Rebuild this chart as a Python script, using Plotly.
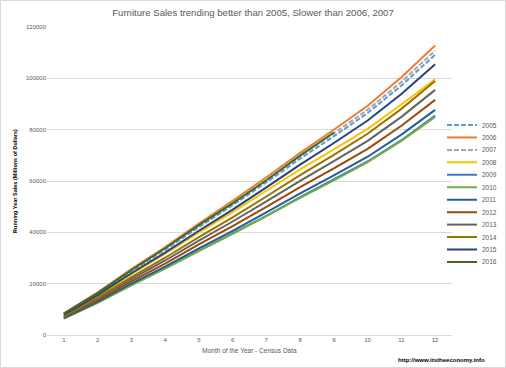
import plotly.graph_objects as go

months = [1, 2, 3, 4, 5, 6, 7, 8, 9, 10, 11, 12]
years = ["2005", "2006", "2007", "2008", "2009", "2010", "2011", "2012", "2013", "2014", "2015", "2016"]

s2005 = [8190, 16050, 24900, 33200, 42040, 50560, 59510, 68690, 77420, 86490, 97190, 109200]
s2006 = [8460, 16580, 25720, 34290, 43430, 52230, 61480, 70950, 79980, 89340, 100390, 112800]
s2007 = [8310, 16290, 25260, 33680, 42660, 51300, 60390, 69690, 78560, 87750, 98610, 110800]
s2008 = [7850, 15350, 23750, 31650, 39950, 47900, 56200, 64500, 72300, 80300, 89800, 99600]
s2009 = [6600, 12900, 19700, 26100, 32900, 39500, 46400, 53700, 60500, 67600, 75900, 85500]
s2010 = [6380, 12500, 19380, 25840, 32730, 39360, 46330, 53470, 60270, 67320, 75650, 85000]
s2011 = [6580, 12890, 20000, 26660, 33760, 40610, 47800, 55160, 62180, 69460, 78050, 87700]
s2012 = [6870, 13470, 20880, 27850, 35270, 42410, 49920, 57620, 64940, 72550, 81520, 91600]
s2013 = [7160, 14040, 21770, 29030, 36770, 44220, 52050, 60070, 67710, 75640, 85000, 95500]
s2014 = [7430, 14550, 22570, 30100, 38120, 45840, 53960, 62270, 70190, 78410, 88110, 99000]
s2015 = [7910, 15510, 24050, 32070, 40620, 48850, 57500, 66360, 74800, 83560, 93900, 105500]
s2016 = [8350, 16300, 25300, 33800, 42800, 51300, 60300, 69900, 78900]

series = [s2005, s2006, s2007, s2008, s2009, s2010, s2011, s2012, s2013, s2014, s2015, s2016]
colors = ["#5B9BD5", "#ED7D31", "#A5A5A5", "#FFC000", "#4472C4", "#70AD47",
          "#255E91", "#9E480E", "#636363", "#997300", "#264478", "#43682B"]
dashes = ["5px,2px", "solid", "5px,2px", "solid", "solid", "solid",
          "solid", "solid", "solid", "solid", "solid", "solid"]

W, H = 506, 368
L, R, T, B = 47, 54, 27, 33
plot_w = W - L - R
plot_h = H - T - B

fig = go.Figure()
layout_legends = {}
for i, (name, vals) in enumerate(zip(years, series)):
    lname = "legend" if i == 0 else f"legend{i+1}"
    fig.add_trace(go.Scatter(
        x=months[:len(vals)], y=vals, name=name, mode="lines",
        line=dict(color=colors[i], width=2, dash=dashes[i]),
        legend=lname,
    ))
    ypix = 125 + i * 12.45
    layout_legends[lname] = dict(
        x=(442 - L) / plot_w, xanchor="left",
        y=(H - B - ypix) / plot_h, yanchor="middle",
        bgcolor="rgba(0,0,0,0)", borderwidth=0,
        font=dict(family="Liberation Sans", size=6.5, color="#595959"),
        itemwidth=30,
    )

fig.update_layout(
    width=W, height=H,
    margin=dict(l=L, r=R, t=T, b=B, autoexpand=False),
    paper_bgcolor="white", plot_bgcolor="white",
    title=dict(text="Furniture Sales trending better than 2005, Slower than 2006, 2007",
               x=0.5, xanchor="center", y=1 - 13 / H, yanchor="middle",
               font=dict(family="Liberation Sans", size=9.6, color="#595959")),
    showlegend=True,
    **layout_legends,
)

fig.update_xaxes(
    range=[0.5, 12.5], tickmode="array", tickvals=months, ticktext=[str(m) for m in months],
    showgrid=False, zeroline=False, showline=False, ticks="", automargin=False,
    tickfont=dict(family="Liberation Sans", size=6, color="#595959"),
    title=dict(text="Month of the Year - Census Data", standoff=6,
               font=dict(family="Liberation Sans", size=6.5, color="#595959")),
)
fig.update_yaxes(
    range=[0, 120000], tickmode="linear", tick0=0, dtick=20000, tickformat="d",
    showgrid=True, gridcolor="#D9D9D9", gridwidth=1, automargin=False,
    zeroline=True, zerolinecolor="#D9D9D9", zerolinewidth=1, showline=False, ticks="",
    tickfont=dict(family="Liberation Sans", size=6, color="#595959"),
    title=dict(text="<b>Running Year Sales (Millions of Dollars)</b>", standoff=8,
               font=dict(family="Liberation Sans", size=5.5, color="#000000")),
)

fig.add_annotation(
    text="<b>http://www.itstheeconomy.info</b>", xref="paper", yref="paper",
    x=(487 - L) / plot_w, xanchor="right", y=(H - B - 360) / plot_h, yanchor="middle",
    showarrow=False, font=dict(family="Liberation Sans", size=6, color="#000000"),
)

fig.add_shape(
    type="rect", xref="paper", yref="paper",
    x0=(0.5 - L) / plot_w, x1=(505.5 - L) / plot_w,
    y0=(H - B - 367.5) / plot_h, y1=(H - B - 0.5) / plot_h,
    line=dict(color="#D9D9D9", width=1), fillcolor="rgba(0,0,0,0)", layer="below",
)

fig.write_html("out.html", config={"displayModeBar": False},
               post_script="document.body.style.margin='0';document.body.style.overflow='hidden';")
